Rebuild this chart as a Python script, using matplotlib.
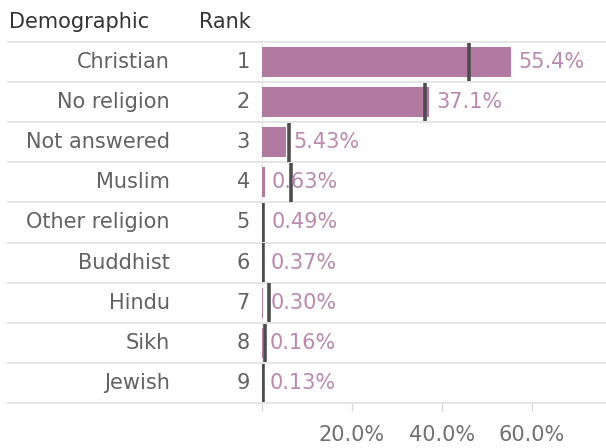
import matplotlib.pyplot as plt
from matplotlib.transforms import blended_transform_factory

demographics = ["Christian", "No religion", "Not answered", "Muslim", "Other religion",
                "Buddhist", "Hindu", "Sikh", "Jewish"]
ranks = [1, 2, 3, 4, 5, 6, 7, 8, 9]
shares = [55.4, 37.1, 5.43, 0.63, 0.49, 0.37, 0.30, 0.16, 0.13]
labels = ["55.4%", "37.1%", "5.43%", "0.63%", "0.49%", "0.37%", "0.30%", "0.16%", "0.13%"]
reference = [46.1, 36.3, 6.0, 6.5, 0.2, 0.2, 1.6, 0.6, 0.2]
ticks = [20, 40, 60]
tick_labels = ["20.0%", "40.0%", "60.0%"]

W, H = 606, 448
BAR = "#b07aa1"
SEP = "#e3e3e3"
FS = 15

fig = plt.figure(figsize=(W / 100, H / 100), dpi=100)
ax = fig.add_axes([262 / W, (H - 403) / H, (W - 262) / W, 361 / H])

ys = list(range(len(demographics)))
ax.barh(ys, shares, height=0.75, color=BAR, zorder=2)
for y, r in zip(ys, reference):
    ax.plot([r, r], [y - 0.48, y + 0.48], color="#4d4d4d", lw=2.6,
            solid_capstyle="butt", zorder=3)
for y, v, t in zip(ys, shares, labels):
    ax.annotate(t, (v, y), xytext=(5, 0), textcoords="offset points",
                ha="left", va="center", color="#bb88ae", fontsize=FS)

ax.set_xlim(0, (W - 262) / 4.5)
ax.set_ylim(len(demographics) - 0.5, -0.5)
for s in ax.spines.values():
    s.set_visible(False)
ax.axvline(0, color=SEP, lw=1.2, zorder=1)
ax.set_yticks([])
ax.set_xticks([0] + ticks)
ax.set_xticklabels([""] + tick_labels)
ax.tick_params(axis="x", length=6, width=1, color="#d9d9d9", pad=10,
               labelsize=FS, labelcolor="#707070")

# table part on the left
tr = blended_transform_factory(fig.transFigure, ax.transData)
for b in [-0.5] + [y + 0.5 for y in ys]:
    ax.plot([8 / W, 1], [b, b], transform=tr, color=SEP, lw=1.3,
            clip_on=False, zorder=1)
for y, d, r in zip(ys, demographics, ranks):
    ax.text(170 / W, y, d, transform=tr, ha="right", va="center",
            fontsize=FS, color="#626262")
    ax.text(250 / W, y, str(r), transform=tr, ha="right", va="center",
            fontsize=FS, color="#626262")

fig.text(9 / W, 1 - 22 / H, "Demographic", ha="left", va="center",
         fontsize=FS, color="#333333")
fig.text(251 / W, 1 - 22 / H, "Rank", ha="right", va="center",
         fontsize=FS, color="#333333")

fig.savefig("out.png", dpi=100)
